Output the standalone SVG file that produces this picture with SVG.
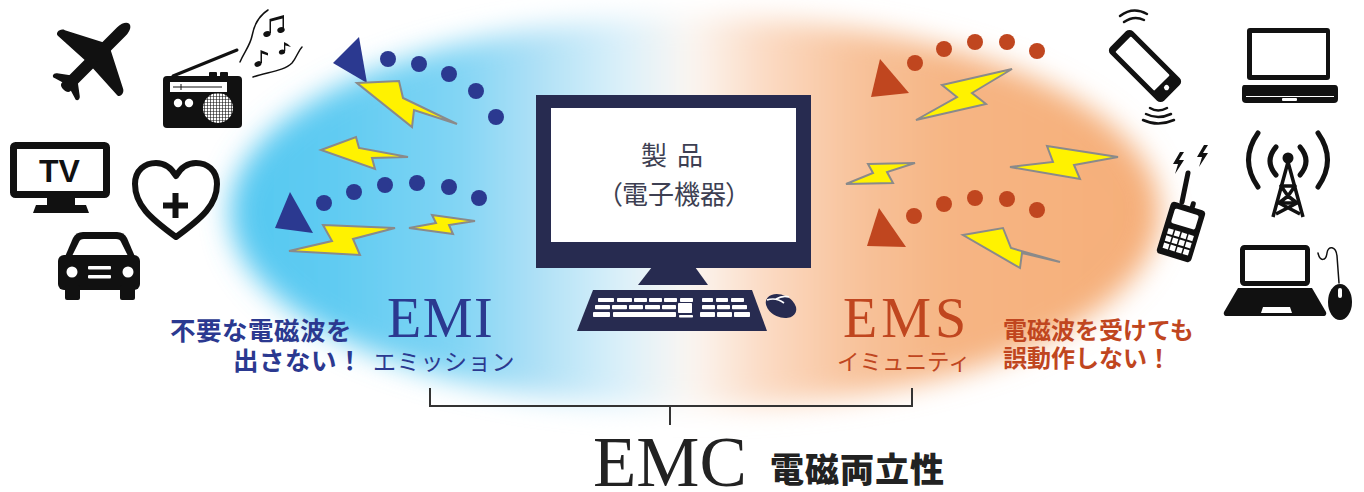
<svg xmlns="http://www.w3.org/2000/svg" width="1364" height="492" viewBox="0 0 1364 492">
  <style>
    .navy{fill:#2b3990}
    .rust{fill:#c0461f}
    .bolt{fill:#fff200;stroke:#8a8a8a;stroke-width:2;stroke-linejoin:miter}
    .ink{fill:#111}
    .inkline{fill:none;stroke:#111;stroke-linecap:round}
    .wht{fill:#fff}
    .pc{fill:#272b50}
    .line{fill:none;stroke:#333;stroke-width:2}
    .jp{font-family:"Noto Sans CJK JP","Noto Sans",sans-serif}
    .serif{font-family:"Liberation Serif","DejaVu Serif",serif}
  </style>
  <defs>
    <linearGradient id="field" gradientUnits="userSpaceOnUse" x1="230" y1="0" x2="1160" y2="0">
      <stop offset="0" stop-color="#55c8f1"/>
      <stop offset="0.11" stop-color="#5fcbf2"/>
      <stop offset="0.24" stop-color="#7fd4f4"/>
      <stop offset="0.33" stop-color="#aee0f6"/>
      <stop offset="0.42" stop-color="#daf0fa"/>
      <stop offset="0.495" stop-color="#fbf6f2"/>
      <stop offset="0.57" stop-color="#fbdcc6"/>
      <stop offset="0.67" stop-color="#f8c39c"/>
      <stop offset="0.77" stop-color="#f6b584"/>
      <stop offset="1" stop-color="#f5ae78"/>
    </linearGradient>
    <filter id="soft" x="-10%" y="-20%" width="120%" height="140%">
      <feGaussianBlur stdDeviation="14"/>
    </filter>
    <pattern id="grille" width="3" height="3" patternUnits="userSpaceOnUse">
      <rect width="3" height="3" fill="#fff"/>
      <path d="M0,0 H3 M0,0 V3" stroke="#111" stroke-width="1.2"/>
    </pattern>
  </defs>

  <rect width="1364" height="492" fill="#fff"/>

  <!-- soft coloured field: blue (emission) to orange (immunity) -->
  <ellipse cx="695" cy="212" rx="465" ry="195" fill="url(#field)" filter="url(#soft)"/>

  <!-- emission side: waves leaving the product -->
  <g id="emi-waves">
    <polygon class="navy" points="333,63 359,37 367,83"/>
    <polygon class="navy" points="290,192 275,228 313,233"/>
    <g class="navy">
      <circle cx="388" cy="59" r="8"/>
      <circle cx="419" cy="64" r="8"/>
      <circle cx="449" cy="74" r="8"/>
      <circle cx="476" cy="91" r="8"/>
      <circle cx="496" cy="117" r="8"/>
      <circle cx="324" cy="203" r="8"/>
      <circle cx="354" cy="192" r="8"/>
      <circle cx="385" cy="185" r="8"/>
      <circle cx="417" cy="183" r="8"/>
      <circle cx="449" cy="187" r="8"/>
      <circle cx="479" cy="198" r="8"/>
    </g>
    <polygon class="bolt" points="357,83 399,81 403,98 457,124 414,110 412,127"/>
    <polygon class="bolt" points="321,150 356,137 359,148 408,157 372,158 375,169"/>
    <polygon class="bolt" points="323,225 395,228 353,239 360,255 289,251 332,241"/>
    <polygon class="bolt" points="432,215 475,221 449,225 453,234 409,228 436,223"/>
  </g>

  <!-- immunity side: waves reaching the product -->
  <g id="ems-waves">
    <polygon class="rust" points="880,59 909,93 871,97"/>
    <polygon class="rust" points="879,208 906,247 867,246"/>
    <g class="rust">
      <circle cx="915" cy="63" r="8"/>
      <circle cx="944" cy="49" r="8"/>
      <circle cx="975" cy="42" r="8"/>
      <circle cx="1007" cy="42" r="8"/>
      <circle cx="1037" cy="51" r="8"/>
      <circle cx="914" cy="216" r="8"/>
      <circle cx="944" cy="204" r="8"/>
      <circle cx="975" cy="198" r="8"/>
      <circle cx="1007" cy="199" r="8"/>
      <circle cx="1037" cy="210" r="8"/>
    </g>
    <polygon class="bolt" points="1012,69 942,85 957,97 916,120 986,104 972,93"/>
    <polygon class="bolt" points="1118,157 1047,146 1053,162 1010,167 1080,179 1074,165"/>
    <polygon class="bolt" points="868,164 915,163 887,172 893,183 846,184 873,173"/>
    <polygon class="bolt" points="963,235 1003,228 1011,248 1060,262 1022,253 1020,268"/>
  </g>

  <!-- the product: desktop computer -->
  <g id="product">
    <rect class="pc" x="536" y="95" width="275" height="173"/>
    <rect class="wht" x="551" y="108" width="245" height="134"/>
    <polygon class="pc" points="652,267 695,267 708,285 638,285"/>
    <polygon class="pc" points="593,290 752,290 767,331 577,331"/>
    <g class="wht">
      <rect x="598" y="298" width="16" height="4" rx="0.8"/>
      <rect x="617" y="298" width="15" height="4" rx="0.8"/>
      <rect x="634" y="298" width="13" height="4" rx="0.8"/>
      <rect x="649" y="298" width="13" height="4" rx="0.8"/>
      <rect x="664" y="298" width="13" height="4" rx="0.8"/>
      <rect x="680" y="298" width="13" height="4" rx="0.8"/>
      <rect x="702" y="298" width="11" height="4" rx="0.8"/>
      <rect x="716" y="298" width="12" height="4" rx="0.8"/>
      <rect x="731" y="298" width="13" height="4" rx="0.8"/>
      <rect x="595" y="305" width="15" height="4.3" rx="0.8"/>
      <rect x="612" y="305" width="15" height="4.3" rx="0.8"/>
      <rect x="629" y="305" width="14" height="4.3" rx="0.8"/>
      <rect x="645" y="305" width="15" height="4.3" rx="0.8"/>
      <rect x="662" y="305" width="14" height="4.3" rx="0.8"/>
      <rect x="678" y="303" width="14" height="10" rx="0.8"/>
      <rect x="702" y="305" width="13" height="4.3" rx="0.8"/>
      <rect x="717" y="305" width="13" height="4.3" rx="0.8"/>
      <rect x="732" y="305" width="15" height="4.3" rx="0.8"/>
      <rect x="593" y="312" width="17" height="5" rx="0.8"/>
      <rect x="613" y="312" width="63" height="5" rx="0.8"/>
      <rect x="679" y="315" width="14" height="2.5" rx="0.8"/>
      <rect x="700" y="312" width="15" height="5" rx="0.8"/>
      <rect x="717" y="312" width="15" height="5" rx="0.8"/>
      <rect x="734" y="312" width="16" height="5" rx="0.8"/>
    </g>
    <ellipse class="pc" cx="781" cy="306" rx="16" ry="11" transform="rotate(25 781 306)"/>
    <path d="M767,300 Q776,297 784,303 M776,299 Q783,295 789,297" fill="none" stroke="#fff" stroke-width="1.6"/>
    <text class="jp" x="673" y="165" font-size="26" fill="#3d3f52" text-anchor="middle" letter-spacing="2">製 品</text>
    <text class="jp" x="674" y="204" font-size="26" fill="#3d3f52" text-anchor="middle" style="font-feature-settings:'palt'">（電子機器）</text>
  </g>

  <!-- labels -->
  <g id="emi-label">
    <text class="serif navy" x="387" y="337" font-size="56" letter-spacing="1.5">EMI</text>
    <text class="jp navy" x="373" y="370" font-size="23" font-weight="400" letter-spacing="0.7">エミッション</text>
    <text class="jp navy" x="170" y="340" font-size="25.5" font-weight="700" letter-spacing="0.5">不要な電磁波を</text>
    <text class="jp navy" x="233" y="370" font-size="25.5" font-weight="700" letter-spacing="0.5">出さない！</text>
  </g>
  <g id="ems-label">
    <text class="serif rust" x="843" y="337" font-size="56" letter-spacing="4">EMS</text>
    <text class="jp rust" x="837" y="370" font-size="22.5" font-weight="400">イミュニティ</text>
    <text class="jp rust" x="1003" y="339" font-size="24" font-weight="700">電磁波を受けても</text>
    <text class="jp rust" x="1003" y="367" font-size="24" font-weight="700">誤動作しない！</text>
  </g>

  <!-- bracket joining EMI and EMS -->
  <g id="connectors">
    <path class="line" d="M430,388 V406 H912 V388"/>
    <path class="line" d="M670,406 V425"/>
  </g>

  <g id="emc-label">
    <text class="serif" x="593" y="486" font-size="71" fill="#222">EMC</text>
    <text class="jp" x="770" y="482" font-size="34" font-weight="900" fill="#222" letter-spacing="1">電磁両立性</text>
  </g>

  <!-- devices that can be disturbed -->
  <g id="airplane" class="ink" transform="translate(96,57) rotate(-45)">
    <path d="M-42,-6 L36,-6 C43,-6 47,-3 47,0 C47,3 43,6 36,6 L-42,6 C-45,6 -46,3 -46,0 C-46,-3 -45,-6 -42,-6 Z"/>
    <path d="M16,-4 L-3,-41 C-5,-46 -12,-46 -12,-42 L-10,-4 Z M16,4 L-3,41 C-5,46 -12,46 -12,42 L-10,4 Z"/>
    <path d="M-30,-4 L-39,-16 C-41,-19 -46,-18 -44,-14 L-41,-4 Z M-30,4 L-39,16 C-41,19 -46,18 -44,14 L-41,4 Z"/>
  </g>

  <g id="radio">
    <line x1="173" y1="76" x2="237" y2="50" stroke="#111" stroke-width="3" stroke-linecap="round"/>
    <rect class="ink" x="209" y="72" width="8" height="5" rx="1"/>
    <rect class="ink" x="220" y="72" width="8" height="5" rx="1"/>
    <rect class="ink" x="163" y="76" width="79" height="52" rx="4"/>
    <rect class="wht" x="170" y="82" width="57" height="10"/>
    <path d="M173,87 H222 M181,84 V90" stroke="#111" stroke-width="1"/>
    <circle class="wht" cx="178" cy="103" r="4.2"/>
    <circle class="wht" cx="189" cy="103" r="4.2"/>
    <circle cx="218" cy="108" r="15" fill="url(#grille)"/>
    <g class="inkline" stroke-width="1.5">
      <path d="M240,62 C244,52 250,46 252,36 C254,25 260,15 268,10"/>
      <path d="M253,77 C268,72 284,71 292,63 C297,57 298,51 302,47"/>
    </g>
    <g class="ink">
      <ellipse cx="267" cy="34" rx="3.8" ry="2.8" transform="rotate(-20 267 34)"/>
      <ellipse cx="281" cy="30" rx="3.8" ry="2.8" transform="rotate(-20 281 30)"/>
      <path d="M269.5,33 V19 L284,15 V29 H282.5 V18.5 L271,21.5 V33 Z"/>
      <ellipse cx="258" cy="64" rx="3.6" ry="2.7" transform="rotate(-20 258 64)"/>
      <path d="M260.5,63 V50 L268,53 V55.5 L262,53.5 V63 Z"/>
      <ellipse cx="282" cy="52" rx="3.2" ry="2.4" transform="rotate(-20 282 52)"/>
      <path d="M284,51 V42 Q289,44 291,47 Q287,45.5 285.3,45.5 V51 Z"/>
    </g>
  </g>

  <g id="tv">
    <rect x="13.5" y="145.5" width="93" height="49" rx="2" fill="#fff" stroke="#111" stroke-width="7"/>
    <text x="59.5" y="182" font-family="Liberation Sans, Arial, sans-serif" font-weight="700" font-size="32" fill="#111" text-anchor="middle">TV</text>
    <rect class="ink" x="47" y="197" width="28" height="8"/>
    <polygon class="ink" points="36,205 86,205 89,213 33,213"/>
  </g>

  <g id="medical">
    <path d="M176,237 C150,218 135,205 135,184 C135,170 145,163 156,163 C166,163 172,169 176,176 C180,169 186,163 196,163 C207,163 217,170 217,184 C217,205 202,218 176,237 Z" fill="#fff" stroke="#111" stroke-width="6" stroke-linejoin="round"/>
    <rect class="ink" x="172.5" y="193" width="6" height="25"/>
    <rect class="ink" x="163" y="202.5" width="25" height="6"/>
  </g>

  <g id="car">
    <path class="ink" d="M64,259 L73,238 Q76,232 83,232 L117,232 Q124,232 127,238 L136,259 Z"/>
    <path class="wht" d="M72,256 L79,242 Q80,239 84,239 L116,239 Q120,239 121,242 L128,256 Z"/>
    <rect class="ink" x="58" y="255" width="82" height="35" rx="6"/>
    <rect class="ink" x="65" y="285" width="15" height="15" rx="2"/>
    <rect class="ink" x="120" y="285" width="15" height="15" rx="2"/>
    <circle class="wht" cx="72" cy="272" r="5.5"/>
    <circle class="wht" cx="128" cy="272" r="5.5"/>
    <rect class="wht" x="88" y="266" width="23" height="3.5" rx="1"/>
    <rect class="wht" x="88" y="275" width="23" height="3.5" rx="1"/>
  </g>

  <g id="smartphone">
    <g transform="translate(1145,66) rotate(-45)">
      <rect class="ink" x="-16" y="-38" width="32" height="76" rx="5"/>
      <rect class="wht" x="-11" y="-31" width="22" height="55" rx="1"/>
      <circle class="wht" cx="0" cy="30.5" r="2.6"/>
    </g>
    <g class="inkline" stroke-width="2.5">
      <path d="M1120,16 Q1133,6 1147,14"/>
      <path d="M1124,22 Q1134,15 1144,20"/>
      <path d="M1150,108 Q1158,113 1167,108"/>
      <path d="M1146,114 Q1158,120 1171,114"/>
      <path d="M1143,120 Q1158,127 1174,120"/>
    </g>
  </g>

  <g id="laptop">
    <rect class="ink" x="1247" y="28" width="83" height="52" rx="3"/>
    <rect class="wht" x="1252" y="33" width="74" height="42"/>
    <path class="ink" d="M1244,85 H1335 Q1338,85 1338,89 V99 Q1338,103 1334,103 H1246 Q1242,103 1242,99 V89 Q1242,85 1244,85 Z"/>
    <path d="M1246,96.5 H1334" stroke="#fff" stroke-width="1"/>
    <rect class="wht" x="1282" y="98" width="15" height="3" rx="1"/>
  </g>

  <g id="transceiver">
    <line x1="1182" y1="202" x2="1188" y2="173" stroke="#111" stroke-width="5" stroke-linecap="round"/>
    <g transform="translate(1181,232) rotate(17)">
      <rect class="ink" x="1" y="-33" width="5" height="8" rx="2"/>
      <rect class="ink" x="-18" y="-27" width="36" height="54" rx="4"/>
      <rect class="wht" x="-12.5" y="-21" width="25" height="15" rx="2"/>
      <g class="wht">
        <rect x="-13" y="0" width="5.5" height="5.5"/>
        <rect x="-6" y="0" width="5.5" height="5.5"/>
        <rect x="1" y="0" width="5.5" height="5.5"/>
        <rect x="8" y="0" width="5.5" height="5.5"/>
        <rect x="-13" y="7.5" width="5.5" height="5.5"/>
        <rect x="-6" y="7.5" width="5.5" height="5.5"/>
        <rect x="1" y="7.5" width="5.5" height="5.5"/>
        <rect x="8" y="7.5" width="5.5" height="5.5"/>
        <rect x="-13" y="15" width="5.5" height="5.5"/>
        <rect x="-6" y="15" width="5.5" height="5.5"/>
        <rect x="1" y="15" width="5.5" height="5.5"/>
        <rect x="8" y="15" width="5.5" height="5.5"/>
      </g>
    </g>
    <polygon class="ink" points="1180,152 1173,164 1178,164 1175,174 1184,160 1179,160 1184,152"/>
    <polygon class="ink" points="1204,145 1197,157 1202,157 1199,167 1208,153 1203,153 1208,145"/>
  </g>

  <g id="tower">
    <circle class="ink" cx="1288" cy="158" r="5.5"/>
    <g class="inkline" stroke-width="5">
      <path d="M1276,147 Q1264,161 1276,175"/>
      <path d="M1300,147 Q1312,161 1300,175"/>
      <path d="M1258,133 Q1239,160 1258,187"/>
      <path d="M1318,133 Q1337,160 1318,187"/>
    </g>
    <g fill="none" stroke="#111" stroke-width="3.5" stroke-linejoin="round">
      <path d="M1288,162 L1273,217 M1288,162 L1303,217"/>
      <path d="M1281,186 H1295 L1288,196 L1279,203 H1297 L1288,196 Z"/>
      <path d="M1279,203 L1300,214 M1297,203 L1276,214"/>
    </g>
  </g>

  <g id="desktop-laptop">
    <rect x="1242.5" y="247.5" width="65" height="36" rx="2" fill="#fff" stroke="#111" stroke-width="5"/>
    <path class="ink" d="M1238,288 H1312 L1326,312 Q1327,316 1323,316 H1227 Q1223,316 1224,312 Z"/>
    <polygon class="wht" points="1263,307 1290,307 1292,313 1261,313"/>
    <path class="inkline" stroke-width="1.5" d="M1318,253 C1320,262 1326,261 1327,253 C1328,245 1336,246 1337,256 L1339,283"/>
    <ellipse class="ink" cx="1340" cy="302" rx="12" ry="18"/>
    <rect class="wht" x="1338" y="288" width="4" height="10" rx="2"/>
  </g>
</svg>
